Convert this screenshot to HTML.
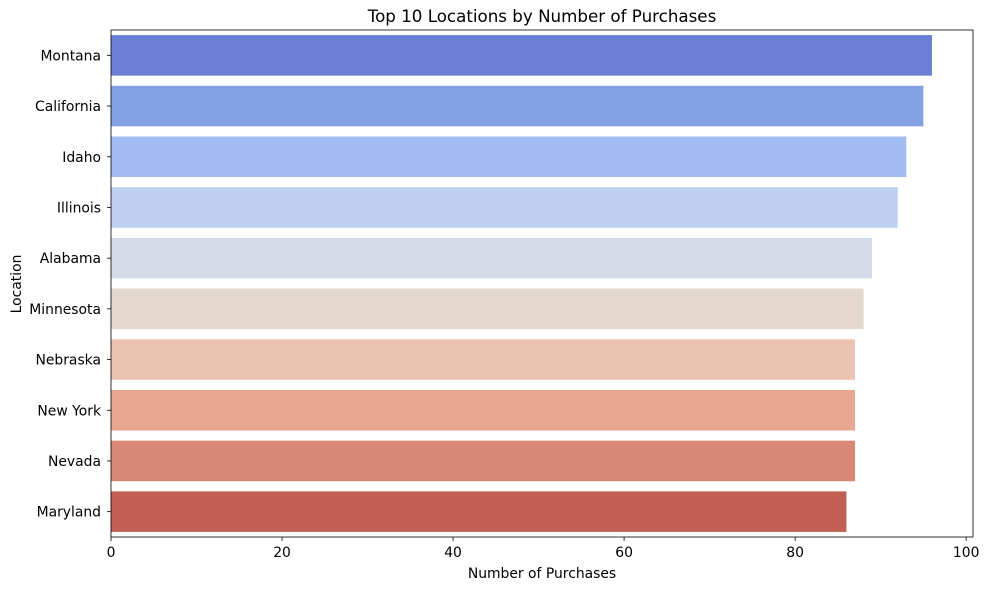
<!DOCTYPE html>
<html><head><meta charset="utf-8"><style>
body{margin:0;background:#fff;}
svg text{font-family:"DejaVu Sans","Liberation Sans",sans-serif;fill:#000;}
</style></head><body>
<svg id="chart" width="989" height="590" xmlns="http://www.w3.org/2000/svg">
<rect width="989" height="590" fill="#fff"/>
<text x="542" y="22" font-size="16.7" text-anchor="middle">Top 10 Locations by Number of Purchases</text>
<g id="bars"></g>
<g id="axes"></g>
<text x="542" y="578" font-size="13.9" text-anchor="middle">Number of Purchases</text>
<text x="21" y="284" font-size="13.9" text-anchor="middle" transform="rotate(-90 21 284)">Location</text>
</svg>
<script>
const categories=["Montana","California","Idaho","Illinois","Alabama","Minnesota","Nebraska","New York","Nevada","Maryland"];
const values=[96,95,93,92,89,88,87,87,87,86];
const colors=["#6a7fd5","#85a1e5","#a2bcf2","#bdd0f0","#d4dae6","#e4d7ce","#eac4b0","#e7a790","#d88874","#c25f55"];
const xTicks=[0,20,40,60,80,100];
const L=111,R=973,T=30,B=537,XMAX=100.8;
const NS="http://www.w3.org/2000/svg";
const x=v=>L+v/XMAX*(R-L);
const band=(B-T)/categories.length;
const y=i=>T+i*band;
const bars=document.getElementById('bars'),axes=document.getElementById('axes');
function mk(t,a,p){const e=document.createElementNS(NS,t);for(const k in a)e.setAttribute(k,a[k]);p.appendChild(e);return e;}
categories.forEach((c,i)=>{
 const r=mk('rect',{x:x(0),y:y(i)+band*0.1,width:x(values[i])-x(0),height:band*0.8,fill:colors[i]},bars);
 
 
 mk('line',{x1:L-4,x2:L,y1:y(i)+band/2,y2:y(i)+band/2,stroke:'#000','stroke-width':0.8},axes);
 const t=mk('text',{x:L-10,y:y(i)+band/2+5,'font-size':13.9,'text-anchor':'end'},axes);
 t.textContent=c;
 
 
});
xTicks.forEach(v=>{
 mk('line',{x1:x(v),x2:x(v),y1:B,y2:B+4,stroke:'#000','stroke-width':0.8},axes);
 const t=mk('text',{x:x(v),y:B+20,'font-size':13.9,'text-anchor':'middle'},axes);
 t.textContent=v;
 
 
});
const f=mk('rect',{x:L,y:T,width:R-L,height:B-T,fill:'none',stroke:'#000','stroke-width':0.8},axes);


</script>
</body></html>
